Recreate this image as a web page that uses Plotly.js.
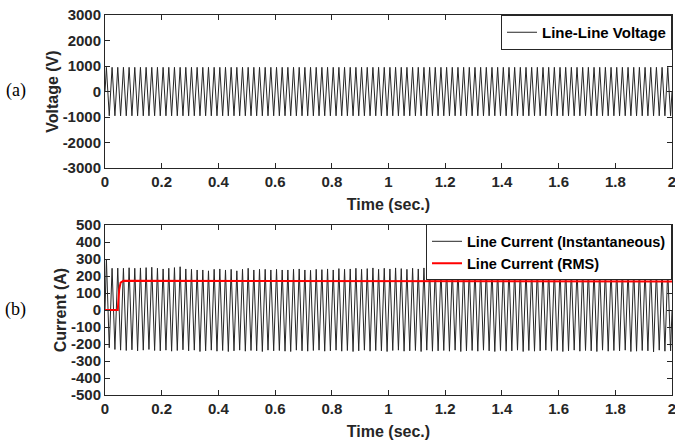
<!DOCTYPE html>
<html><head>
<script src="https://cdn.plot.ly/plotly-3.0.1.min.js"></script>
<style>body{margin:0;background:#fff}</style>
</head><body>
<div id="chart" style="width:675px;height:443px"></div>
<script>
// ---- data ----
const frequencyHz = 50;            // supply frequency (≈5.5 px per cycle)
const cycles = 100;                // 0 … 2 s
const voltagePeakV = 950;          // line-line voltage peak
const voltageTroughV = -950;
const currentPeaksA = [300,246,247,246,249,246,248,250,252,246,242,246,250,255,242,240,236,236,231,240,
  242,236,240,231,240,246,236,240,240,236,240,236,236,240,242,236,234,240,238,242,
  236,244,240,242,246,240,244,248,240,246,242,248,244,240,246,242,248,244,246,238,
  248,240,244,250,242,246,240,248,244,238,242,248,240,246,242,240,248,244,238,246,
  242,248,240,244,250,242,238,246,244,240,248,242,238,246,250,240,244,236,248,242];
const currentTroughsA = [-222,-232,-236,-238,-234,-240,-236,-232,-238,-240,-236,-242,-238,-234,-240,-236,-244,-240,-236,-242,
  -238,-244,-240,-236,-242,-238,-240,-244,-236,-240,-238,-242,-244,-236,-240,-242,-238,-236,-242,-240,
  -236,-242,-238,-244,-240,-236,-242,-238,-240,-244,-238,-236,-242,-240,-238,-244,-236,-242,-240,-238,
  -242,-236,-244,-240,-238,-242,-236,-240,-244,-238,-242,-240,-236,-244,-238,-242,-240,-236,-242,-238,
  -244,-240,-236,-242,-238,-240,-244,-236,-242,-238,-240,-236,-244,-242,-238,-240,-246,-236,-242,-240];
const rmsTime = [0, 0.045, 0.05, 0.055, 0.065, 0.1, 0.3, 0.5, 0.8, 1.0, 1.3, 1.6, 1.8, 2.0];
const rmsCurrent = [0, 0, 120, 162, 172, 172, 171, 170, 169, 169, 168, 168, 168, 168];
const xTicks = [0, 0.2, 0.4, 0.6, 0.8, 1, 1.2, 1.4, 1.6, 1.8, 2];
const voltageTicks = [-3000, -2000, -1000, 0, 1000, 2000, 3000];
const currentTicks = [-500, -400, -300, -200, -100, 0, 100, 200, 300, 400, 500];

// waveform drawn through its peak / trough points
function waveform(peaks, troughs) {
  const x = [0], y = [0];
  for (let k = 0; k < cycles; k++) {
    x.push((k + 0.25) / frequencyHz); y.push(peaks[k]);
    x.push((k + 0.75) / frequencyHz); y.push(troughs[k]);
  }
  x.push(cycles / frequencyHz); y.push(0);
  return {x, y};
}
const vp = new Array(cycles).fill(voltagePeakV), vt = new Array(cycles).fill(voltageTroughV);
const vw = waveform(vp, vt);
const cw = waveform(currentPeaksA, currentTroughsA);

const F = 'Liberation Sans, Arial, sans-serif';
const traces = [
  {x: vw.x, y: vw.y, type: 'scatter', mode: 'lines', name: 'Line-Line Voltage',
   line: {color: '#262626', width: 1}, xaxis: 'x', yaxis: 'y', legend: 'legend'},
  {x: cw.x, y: cw.y, type: 'scatter', mode: 'lines', name: 'Line Current (Instantaneous)',
   line: {color: '#262626', width: 1}, xaxis: 'x2', yaxis: 'y2', legend: 'legend2'},
  {x: rmsTime, y: rmsCurrent, type: 'scatter', mode: 'lines', name: 'Line Current (RMS)',
   line: {color: '#ff0000', width: 2}, xaxis: 'x2', yaxis: 'y2', legend: 'legend2'}
];

const fmt = v => String(v);   // plain hyphen minus, as in the reference
const axBase = {showline: true, mirror: 'ticks', linecolor: '#262626', linewidth: 1,
  ticks: 'inside', ticklen: 5, tickcolor: '#262626', showgrid: false, zeroline: false,
  ticklabeloverflow: 'allow',
  tickfont: {family: F, size: 15, weight: 'bold', color: '#262626'}};
const xTitle = {text: 'Time (sec.)', font: {family: F, size: 16, weight: 'bold', color: '#262626'}, standoff: 9};

const legBase = {x: 1, xanchor: 'right', bgcolor: '#fff', bordercolor: '#262626', borderwidth: 1,
  tracegroupgap: 0, itemwidth: 30};

const layout = {
  width: 675, height: 443,
  margin: {l: 105, r: 3, t: 15, b: 48},
  paper_bgcolor: '#fff', plot_bgcolor: '#fff',
  showlegend: true,
  xaxis: Object.assign({}, axBase, {domain: [0, 1], anchor: 'y', range: [0, 2], tickvals: xTicks,
    ticktext: xTicks.map(fmt), title: xTitle}),
  yaxis: Object.assign({}, axBase, {domain: [0.597, 1], anchor: 'x', range: [-3000, 3000], tickvals: voltageTicks,
    ticktext: voltageTicks.map(fmt),
    title: {text: 'Voltage (V)', font: {family: F, size: 16, weight: 'bold', color: '#262626'}, standoff: 0}}),
  xaxis2: Object.assign({}, axBase, {domain: [0, 1], anchor: 'y2', range: [0, 2], tickvals: xTicks,
    ticktext: xTicks.map(fmt), title: xTitle}),
  yaxis2: Object.assign({}, axBase, {domain: [0, 0.447], anchor: 'x2', range: [-500, 500], tickvals: currentTicks,
    ticktext: currentTicks.map(fmt),
    title: {text: 'Current (A)', font: {family: F, size: 16, weight: 'bold', color: '#262626'}, standoff: 0}}),
  legend: Object.assign({}, legBase, {y: 1, yanchor: 'top',
    font: {family: F, size: 15, weight: 'bold', color: '#000'}}),
  legend2: Object.assign({}, legBase, {y: 0.449, yanchor: 'top',
    font: {family: F, size: 14.5, weight: 'bold', color: '#000'}}),
  annotations: [
    {text: '(a)', xref: 'paper', yref: 'paper', x: -0.157, y: 0.80, xanchor: 'center', yanchor: 'middle',
     showarrow: false, font: {family: 'Liberation Serif, Times New Roman, serif', size: 18, color: '#000'}},
    {text: '(b)', xref: 'paper', yref: 'paper', x: -0.157, y: 0.224, xanchor: 'center', yanchor: 'middle',
     showarrow: false, font: {family: 'Liberation Serif, Times New Roman, serif', size: 18, color: '#000'}}
  ]
};
Plotly.newPlot('chart', traces, layout, {staticPlot: true, displayModeBar: false});
</script>
</body></html>
